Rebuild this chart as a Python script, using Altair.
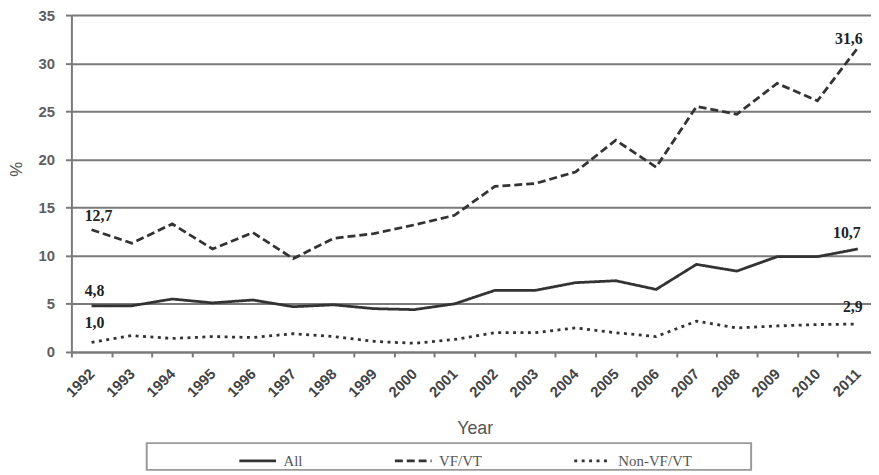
import altair as alt
import pandas as pd

years = [str(y) for y in range(1992, 2012)]
series = ["All", "VF/VT", "Non-VF/VT"]
all_vals = [4.8, 4.8, 5.5, 5.1, 5.4, 4.7, 4.9, 4.5, 4.4, 5.0, 6.4, 6.4, 7.2, 7.4, 6.5, 9.1, 8.4, 9.9, 9.9, 10.7]
vf_vals = [12.7, 11.3, 13.3, 10.7, 12.4, 9.7, 11.8, 12.3, 13.2, 14.2, 17.2, 17.5, 18.7, 22.0, 19.2, 25.5, 24.7, 27.9, 26.1, 31.6]
non_vals = [1.0, 1.7, 1.4, 1.6, 1.5, 1.9, 1.6, 1.1, 0.9, 1.3, 2.0, 2.0, 2.5, 2.0, 1.6, 3.2, 2.5, 2.7, 2.85, 2.9]
y_ticks = [0, 5, 10, 15, 20, 25, 30, 35]

rows = []
for name, vals in zip(series, [all_vals, vf_vals, non_vals]):
    for y, v in zip(years, vals):
        rows.append({"Year": y, "Series": name, "Value": v})
df = pd.DataFrame(rows)

GRID = "#7a7a7a"
LINE = "#333333"

x_enc = alt.X(
    "Year:O",
    sort=years,
    scale=alt.Scale(type="band", paddingInner=0, paddingOuter=0, range=[0, 814]),
    axis=alt.Axis(
        title="Year", tickBand="extent", labelAngle=315, labelAlign="right",
        labelBaseline="middle", labelFont="Liberation Sans", labelFontSize=15,
        labelFontWeight="bold",
        labelColor="#444444", labelPadding=14, tickSize=5, tickColor=GRID, tickWidth=2,
        domainColor=GRID, domainWidth=2, grid=False,
        titleFont="Liberation Sans", titleFontSize=18, titleFontWeight="normal",
        titleColor="#555555", titleY=77, titleBaseline="middle",
    ),
)
y_enc = alt.Y(
    "Value:Q",
    scale=alt.Scale(domain=[0, 35], nice=False, zero=True),
    axis=alt.Axis(
        title="%", values=y_ticks, grid=True, gridColor=GRID, gridWidth=2,
        domainColor=GRID, domainWidth=2, tickColor=GRID, tickWidth=2, tickSize=6,
        labelFont="Liberation Sans", labelFontSize=15, labelFontWeight="bold",
        labelColor="#606060", labelPadding=11,
        titleFont="Liberation Sans", titleFontSize=17, titleFontWeight="normal",
        titleColor="#555555", titleAngle=270, titleX=-55, titleY=155,
        titleAlign="center", titleBaseline="middle",
    ),
)

lines = alt.Chart(df).mark_line(color=LINE, strokeWidth=2.8).encode(
    x=x_enc,
    y=y_enc,
    strokeDash=alt.StrokeDash(
        "Series:N",
        sort=series,
        scale=alt.Scale(domain=series, range=[[1, 0], [8, 4], [3, 4.5]]),
        legend=alt.Legend(
            title=None, orient="none", direction="horizontal", legendX=168, legendY=430,
            symbolType="stroke", symbolSize=1369, symbolStrokeColor=LINE,
            symbolStrokeWidth=2.8, labelFont="Liberation Serif", labelFontSize=15,
            labelColor="#555555", labelOffset=6, columnPadding=86, padding=0,
        ),
    ),
)

box = alt.Chart(pd.DataFrame({"k": [0]})).mark_rect(
    fill="white", stroke="#9a9a9a", strokeWidth=2
).encode(x=alt.value(76), x2=alt.value(686), y=alt.value(432), y2=alt.value(459))

label_offsets = {
    ("1992", "VF/VT"): (-7, -14, "left"),
    ("1992", "All"): (-7, -15, "left"),
    ("1992", "Non-VF/VT"): (-7, -19, "left"),
    ("2011", "VF/VT"): (5, -9, "right"),
    ("2011", "All"): (3, -16, "right"),
    ("2011", "Non-VF/VT"): (5, -17, "right"),
}
texts = []
for (yr, s), (dx, dy, al) in label_offsets.items():
    t = alt.Chart(df).transform_filter(
        (alt.datum.Year == yr) & (alt.datum.Series == s)
    ).transform_calculate(
        lab="replace(format(datum.Value, '.1f'), '.', ',')"
    ).mark_text(
        font="Liberation Serif", fontSize=16, fontWeight="bold", color="#222222",
        align=al, baseline="middle", dx=dx, dy=dy,
    ).encode(x=alt.X("Year:O", sort=years), y="Value:Q", text="lab:N")
    texts.append(t)

chart = alt.layer(box, lines, *texts).properties(
    width=806, height=340,
    autosize=alt.AutoSizeParams(type="none"),
    padding={"left": 64, "top": 5, "right": 1, "bottom": 120},
    background="white",
).configure_view(stroke=None)

chart.save("out.html", embed_options={"renderer": "svg", "actions": False})
